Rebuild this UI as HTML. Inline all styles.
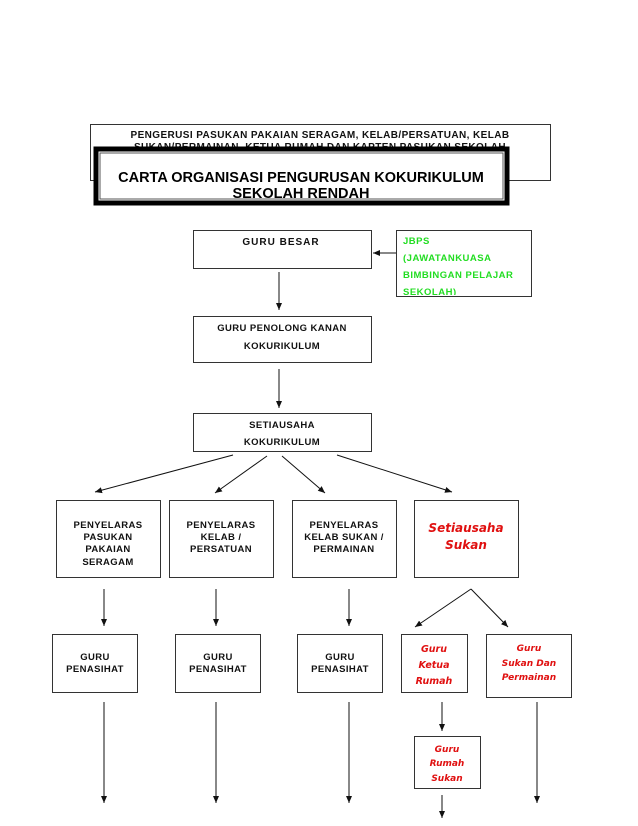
<!DOCTYPE html>
<html><head><meta charset="utf-8"><style>
html,body{margin:0;padding:0;background:#fff}
svg{display:block}
text{font-family:"Liberation Sans",Arial,sans-serif}
.b{fill:#fff;stroke:#333;stroke-width:1}
.t{font-size:9.5px;font-weight:bold;fill:#111;text-anchor:middle;letter-spacing:0.4px}
.r{font-family:"DejaVu Sans","Liberation Sans",sans-serif;font-style:italic;font-weight:bold;fill:#e01010;text-anchor:middle;font-size:9.5px}
.g{font-size:9.5px;font-weight:bold;fill:#22dd22;letter-spacing:0.5px}
line{stroke:#111;stroke-width:1}
</style></head><body>
<svg width="638" height="826" viewBox="0 0 638 826" xmlns="http://www.w3.org/2000/svg">
<defs><marker id="a" markerWidth="8" markerHeight="8" refX="7" refY="4" orient="auto" markerUnits="userSpaceOnUse"><path d="M0,1 L7,4 L0,7 z" fill="#111"/></marker></defs>

<rect class="b" x="90.5" y="124.5" width="460" height="56"/>
<text class="t" x="320" y="138" style="font-size:10px">PENGERUSI PASUKAN PAKAIAN SERAGAM, KELAB/PERSATUAN, KELAB</text>
<text class="t" x="320" y="150" style="font-size:10px">SUKAN/PERMAINAN, KETUA RUMAH DAN KAPTEN PASUKAN SEKOLAH</text>
<rect x="96" y="149" width="411" height="54" fill="#fff" stroke="#000" stroke-width="5"/>
<rect x="100" y="153" width="403" height="46" fill="none" stroke="#555" stroke-width="1"/>
<text x="301" y="182" text-anchor="middle" font-size="14.5" font-weight="bold" fill="#000">CARTA ORGANISASI PENGURUSAN KOKURIKULUM</text>
<text x="301" y="198" text-anchor="middle" font-size="14.5" font-weight="bold" fill="#000">SEKOLAH RENDAH</text>

<rect class="b" x="193.5" y="230.5" width="178" height="38"/>
<text class="t" x="281" y="245" style="font-size:10px;font-weight:900;letter-spacing:1px">GURU BESAR</text>
<rect class="b" x="396.5" y="230.5" width="135" height="66"/>
<svg x="397" y="231" width="134" height="64" overflow="hidden">
<text class="g" x="6" y="13">JBPS</text>
<text class="g" x="6" y="30">(JAWATANKUASA</text>
<text class="g" x="6" y="47">BIMBINGAN PELAJAR</text>
<text class="g" x="6" y="64">SEKOLAH)</text>
</svg>
<line x1="396" y1="253" x2="373" y2="253" marker-end="url(#a)"/>
<line x1="279" y1="272" x2="279" y2="310" marker-end="url(#a)"/>

<rect class="b" x="193.5" y="316.5" width="178" height="46"/>
<text class="t" x="282" y="331">GURU PENOLONG KANAN</text>
<text class="t" x="282" y="349">KOKURIKULUM</text>
<line x1="279" y1="369" x2="279" y2="408" marker-end="url(#a)"/>

<rect class="b" x="193.5" y="413.5" width="178" height="38"/>
<text class="t" x="282" y="428">SETIAUSAHA</text>
<text class="t" x="282" y="445">KOKURIKULUM</text>
<line x1="233" y1="455" x2="95" y2="492" marker-end="url(#a)"/>
<line x1="267" y1="456" x2="215" y2="493" marker-end="url(#a)"/>
<line x1="282" y1="456" x2="325" y2="493" marker-end="url(#a)"/>
<line x1="337" y1="455" x2="452" y2="492" marker-end="url(#a)"/>

<rect class="b" x="56.5" y="500.5" width="104" height="77"/>
<text class="t" x="108" y="528">PENYELARAS</text>
<text class="t" x="108" y="540">PASUKAN</text>
<text class="t" x="108" y="552">PAKAIAN</text>
<text class="t" x="108" y="565">SERAGAM</text>
<rect class="b" x="169.5" y="500.5" width="104" height="77"/>
<text class="t" x="221" y="528">PENYELARAS</text>
<text class="t" x="221" y="540">KELAB /</text>
<text class="t" x="221" y="552">PERSATUAN</text>
<rect class="b" x="292.5" y="500.5" width="104" height="77"/>
<text class="t" x="344" y="528">PENYELARAS</text>
<text class="t" x="344" y="540">KELAB SUKAN /</text>
<text class="t" x="344" y="552">PERMAINAN</text>
<rect class="b" x="414.5" y="500.5" width="104" height="77"/>
<text class="r" x="466" y="532" style="font-size:12px">Setiausaha</text>
<text class="r" x="466" y="549" style="font-size:12px">Sukan</text>

<line x1="104" y1="589" x2="104" y2="626" marker-end="url(#a)"/>
<line x1="216" y1="589" x2="216" y2="626" marker-end="url(#a)"/>
<line x1="349" y1="589" x2="349" y2="626" marker-end="url(#a)"/>
<line x1="471" y1="589" x2="415" y2="627" marker-end="url(#a)"/>
<line x1="471" y1="589" x2="508" y2="627" marker-end="url(#a)"/>

<rect class="b" x="52.5" y="634.5" width="85" height="58"/>
<text class="t" x="95" y="660">GURU</text>
<text class="t" x="95" y="672">PENASIHAT</text>
<rect class="b" x="175.5" y="634.5" width="85" height="58"/>
<text class="t" x="218" y="660">GURU</text>
<text class="t" x="218" y="672">PENASIHAT</text>
<rect class="b" x="297.5" y="634.5" width="85" height="58"/>
<text class="t" x="340" y="660">GURU</text>
<text class="t" x="340" y="672">PENASIHAT</text>
<rect class="b" x="401.5" y="634.5" width="66" height="58"/>
<text class="r" x="434" y="652">Guru</text>
<text class="r" x="434" y="668">Ketua</text>
<text class="r" x="434" y="684">Rumah</text>
<rect class="b" x="486.5" y="634.5" width="85" height="63"/>
<text class="r" x="529" y="651" style="font-size:9px">Guru</text>
<text class="r" x="529" y="666" style="font-size:9px">Sukan Dan</text>
<text class="r" x="529" y="680" style="font-size:9px">Permainan</text>

<line x1="104" y1="702" x2="104" y2="803" marker-end="url(#a)"/>
<line x1="216" y1="702" x2="216" y2="803" marker-end="url(#a)"/>
<line x1="349" y1="702" x2="349" y2="803" marker-end="url(#a)"/>
<line x1="537" y1="702" x2="537" y2="803" marker-end="url(#a)"/>
<line x1="442" y1="702" x2="442" y2="731" marker-end="url(#a)"/>

<rect class="b" x="414.5" y="736.5" width="66" height="52"/>
<text class="r" x="447" y="752" style="font-size:9px">Guru</text>
<text class="r" x="447" y="766" style="font-size:9px">Rumah</text>
<text class="r" x="447" y="781" style="font-size:9px">Sukan</text>
<line x1="442" y1="795" x2="442" y2="818" marker-end="url(#a)"/>
</svg>
</body></html>
